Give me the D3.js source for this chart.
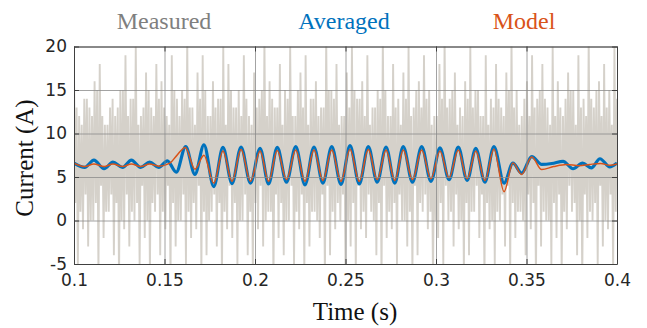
<!DOCTYPE html>
<html><head><meta charset="utf-8">
<script src="https://cdn.jsdelivr.net/npm/d3@7"></script>
<style>body{margin:0;background:#fff}svg{display:block}</style>
</head><body>
<svg id="c" width="647" height="328"></svg>
<script>
// ---------- data ----------
const xTicks = [0.1, 0.15, 0.2, 0.25, 0.3, 0.35, 0.4];
const xTickLabels = ["0.1", "0.15", "0.2", "0.25", "0.3", "0.35", "0.4"];
const yTicks = [-5, 0, 5, 10, 15, 20];
const yTickLabels = ["-5", "0", "5", "10", "15", "20"];
const seriesNames = ["Measured", "Averaged", "Model"];

// measured switching current: repeating cycle of tall peak, shallow trough, mid peak, deep trough
const measuredStart = 0.1, measuredEnd = 0.4;
const measuredTallPeaks = [17,12,14,13,16,18,11,13,12,15,19,14,20,12,17,13,18,16,12,19,14,15,21,13,17,19,12,16,14,20,18,13,15,19,12,17,14,21,16,13,18,15,20,12,17,19,14,16,13,21,15,18,12,17,20,14,16,19,13,15,21,12,18,14,17,20,13,16,19,15,12,18,21,14,17,13,16,20,15,12,19,14,18,13,17,21,15,12,16,19,14,18,13,20,16,12,17,15,19,14,21,13,16,18,15,20];
const measuredShallowTroughs = [2,1,3,0,2,4,1,3,2,0,3,1,2,4,0,2,3,1,4,2,0,3,1,2,4,1,0,3,2,1,4,2,0,3,1,2,4,0,1,3,2,0,4,1,3,2,1,0,3,4,1,2,3,0,2,4,1,3,0,2,4,1,2,3,0,1,4,2,3,1,0,2,4,1,3,0,2,1,4,3,2,0,1,3,4,2,1,0,3,2,4,1,0,2,3,1,4,2,0,3,1,2,4,0,3,1];
const measuredMidPeaks = [13,11,14,12,15,12,11,14,13,15,12,14,11,13,15,12,14,13,11,15,12,14,13,11,14,15,12,13,14,11,15,13,12,14,11,13,15,12,14,13,11,14,12,15,13,11,14,12,13,15,14,11,12,13,15,14,12,11,13,14,15,12,13,11,14,12,15,13,14,11,12,14,13,15,11,12,14,13,15,12,11,13,14,12,15,13,11,14,12,13,15,14,11,12,13,14,15,11,13,12,14,15,12,13,11,14];
const measuredDeepTroughs = [-5,-1,-3,0,-6,-2,1,-4,-7,-1,-3,0,-5,-2,-6,1,-4,-1,-7,-3,0,-5,-2,-1,-6,-4,1,-3,-7,-1,-2,-5,0,-4,-6,-1,-3,1,-7,-2,-4,0,-5,-1,-6,-3,1,-2,-7,-4,-1,0,-5,-3,-6,-1,-2,1,-4,-7,-2,-1,-5,0,-3,-6,-4,1,-1,-7,-2,-5,0,-3,-1,-6,-4,1,-2,-7,-1,-5,0,-3,-6,-2,1,-4,-1,-7,-3,0,-5,-2,-6,-1,1,-4,-7,-2,0,-5,-3,-1,-6];

// averaged current (extrema)
const avgTime = [0.100,0.1059,0.1110,0.1166,0.1215,0.1268,0.1317,0.1368,0.1418,0.1468,0.1516,0.1565,0.1617,0.1668,0.1718,0.1772,0.1823,0.1873,0.1923,0.1975,0.2028,0.2075,0.2123,0.2174,0.2225,0.2276,0.2326,0.2375,0.2424,0.2475,0.2525,0.2576,0.2626,0.2675,0.2724,0.2772,0.2819,0.2870,0.2921,0.2972,0.3022,0.3072,0.3123,0.3172,0.3220,0.3270,0.3320,0.3376,0.3425,0.3473,0.3529,0.3584,0.3640,0.3702,0.3757,0.3810,0.3858,0.3906,0.3960,0.4000];
const avgValue = [6.6,6.1,6.95,5.95,6.7,6.1,6.95,6.1,6.7,6.1,6.85,5.55,8.5,5.3,8.7,3.9,8.4,4.25,8.45,4.3,8.3,4.2,8.4,4.4,8.5,4.1,8.45,4.3,8.5,4.15,8.6,4.2,8.5,4.4,8.45,4.3,8.5,4.4,8.5,4.5,8.35,4.7,8.45,4.6,8.3,4.4,8.5,4.3,6.6,5.45,7.35,6.45,6.55,6.8,5.95,6.6,6.05,7.1,6.15,6.6];

// model current
const modelTime = [0.100,0.1059,0.1110,0.1166,0.1215,0.1268,0.1317,0.1368,0.1418,0.1468,0.1530,0.1565,0.1615,0.1668,0.1718,0.1772,0.1823,0.1873,0.1923,0.1975,0.2028,0.2075,0.2123,0.2174,0.2225,0.2276,0.2326,0.2375,0.2424,0.2475,0.2525,0.2576,0.2626,0.2675,0.2724,0.2772,0.2819,0.2870,0.2921,0.2972,0.3022,0.3072,0.3123,0.3172,0.3220,0.3270,0.3320,0.3376,0.3425,0.3473,0.3529,0.3584,0.3650,0.3720,0.3790,0.3850,0.3910,0.3960,0.4000];
const modelValue = [6.6,6.2,6.5,6.2,6.5,6.2,6.5,6.2,6.5,6.25,6.6,7.4,8.4,5.9,7.5,4.3,8.0,4.5,8.15,4.5,8.0,4.5,8.05,4.7,8.1,4.5,8.1,4.6,8.1,4.5,8.2,4.5,8.15,4.7,8.1,4.6,8.1,4.7,8.1,4.8,8.0,4.9,8.1,4.8,8.0,4.6,8.2,3.3,6.6,5.3,7.3,5.85,6.2,6.45,6.3,6.45,6.55,6.35,6.5];

// ---------- layout ----------
const L = 74, R = 617, T = 46.5, B = 264;
const svg = d3.select("#c");
const x = d3.scaleLinear().domain([0.1, 0.4]).range([L, R]);
const y = d3.scaleLinear().domain([-5, 20]).range([B, T]);

svg.append("defs").append("clipPath").attr("id", "clip")
  .append("rect").attr("x", L).attr("y", T).attr("width", R - L).attr("height", B - T);

// measured series built from the four interleaved lists
const seq = [];
for (let k = 0; k < measuredTallPeaks.length; k++) {
  seq.push(measuredTallPeaks[k]);
  if (k < measuredShallowTroughs.length) seq.push(measuredShallowTroughs[k]);
  if (k < measuredMidPeaks.length) seq.push(measuredMidPeaks[k]);
  if (k < measuredDeepTroughs.length) seq.push(measuredDeepTroughs[k]);
}
const measured = seq.map((v, i) => [measuredStart + (measuredEnd - measuredStart) * i / (seq.length - 1), v]);
const plot = svg.append("g").attr("clip-path", "url(#clip)");
plot.append("path").datum(measured)
  .attr("d", d3.line().x(d => x(d[0])).y(d => y(d[1])))
  .attr("fill", "none").attr("stroke", "#d5d1ca").attr("stroke-width", 1.9);

// grid
const grid = svg.append("g");
grid.append("g").attr("transform", `translate(0,${B})`)
  .call(d3.axisBottom(x).tickValues(xTicks).tickSize(-(B - T)).tickFormat(""))
  .call(g => g.select(".domain").remove())
  .call(g => g.selectAll("line").attr("stroke", "#8c8c8c").attr("stroke-width", 0.8));
grid.append("g").attr("transform", `translate(${L},0)`)
  .call(d3.axisLeft(y).tickValues(yTicks).tickSize(-(R - L)).tickFormat(""))
  .call(g => g.select(".domain").remove())
  .call(g => g.selectAll("line").attr("stroke", "#8c8c8c").attr("stroke-width", 0.8));

// averaged & model
const avgData = avgTime.map((t, i) => [t, avgValue[i]]);
const modelData = modelTime.map((t, i) => [t, modelValue[i]]);
const line = d3.line().x(d => x(d[0])).y(d => y(d[1])).curve(d3.curveMonotoneX);
plot.append("path").datum(avgData).attr("d", line)
  .attr("fill", "none").attr("stroke", "#0072bd").attr("stroke-width", 3.2);
plot.append("path").datum(modelData).attr("d", line)
  .attr("fill", "none").attr("stroke", "#d95319").attr("stroke-width", 1.5);

// axes
const axColor = "#404040";
const fmtX = (d, i) => xTickLabels[i];
const fmtY = (d, i) => yTickLabels[i];
function styleAxis(g) {
  g.select(".domain").attr("stroke", axColor).attr("stroke-width", 1);
  g.selectAll(".tick line").attr("stroke", axColor);
  g.selectAll("text").attr("fill", "#262626").attr("font-family", "DejaVu Sans").attr("font-size", 17);
}
svg.append("g").attr("transform", `translate(0,${B})`)
  .call(d3.axisBottom(x).tickValues(xTicks).tickFormat(fmtX).tickSizeInner(-5).tickSizeOuter(0).tickPadding(10))
  .call(styleAxis);
svg.append("g").attr("transform", `translate(0,${T})`)
  .call(d3.axisTop(x).tickValues(xTicks).tickFormat("").tickSizeInner(-5).tickSizeOuter(0))
  .call(styleAxis);
svg.append("g").attr("transform", `translate(${L},0)`)
  .call(d3.axisLeft(y).tickValues(yTicks).tickFormat(fmtY).tickSizeInner(-5).tickSizeOuter(0).tickPadding(7))
  .call(styleAxis);
svg.append("g").attr("transform", `translate(${R},0)`)
  .call(d3.axisRight(y).tickValues(yTicks).tickFormat("").tickSizeInner(-5).tickSizeOuter(0))
  .call(styleAxis);

// axis titles
svg.append("text").attr("x", 355).attr("y", 320).attr("text-anchor", "middle")
  .attr("font-family", "Liberation Serif").attr("font-size", 25).attr("fill", "#111")
  .text("Time (s)");
svg.append("text").attr("transform", "translate(33,158) rotate(-90)").attr("text-anchor", "middle")
  .attr("font-family", "Liberation Serif").attr("font-size", 25).attr("fill", "#111")
  .text("Current (A)");

// legend (coloured titles)
const legColors = ["#7f7f7f", "#0072bd", "#d95319"];
const legX = [164, 344, 524];
svg.selectAll(".leg").data(seriesNames).enter().append("text")
  .attr("x", (d, i) => legX[i]).attr("y", 29).attr("text-anchor", "middle")
  .attr("font-family", "Liberation Serif").attr("font-size", 24)
  .attr("fill", (d, i) => legColors[i]).text(d => d);
</script>
</body></html>
